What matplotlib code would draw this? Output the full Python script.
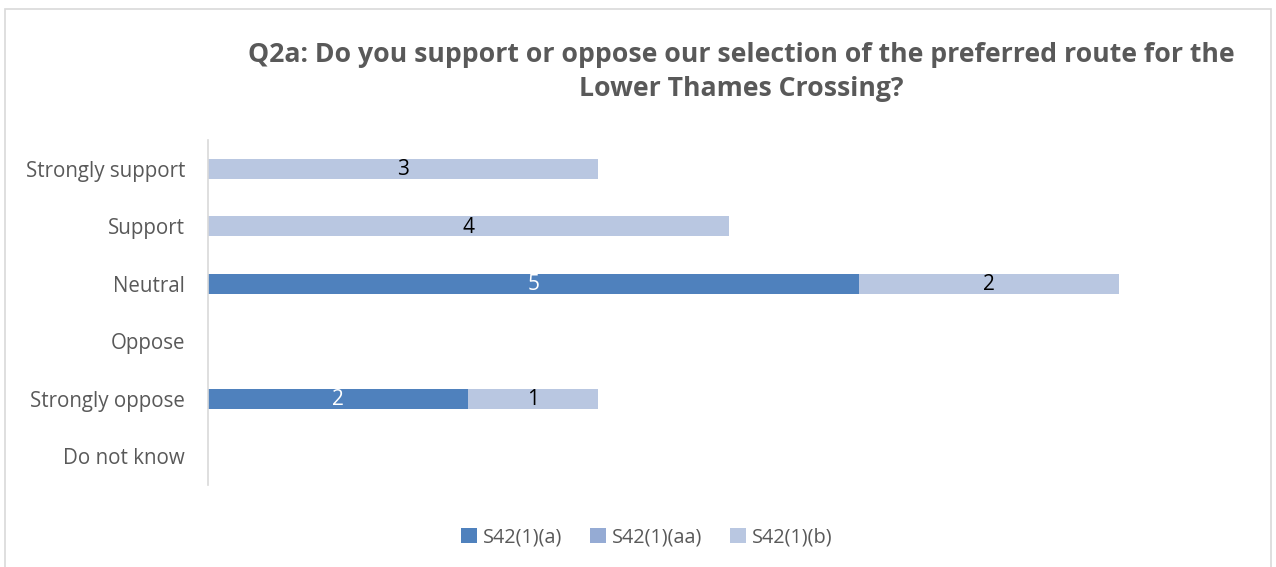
import matplotlib
matplotlib.use("Agg")
import matplotlib.pyplot as plt
from matplotlib.patches import Rectangle, Patch

categories = ["Strongly support", "Support", "Neutral", "Oppose", "Strongly oppose", "Do not know"]
series_names = ["S42(1)(a)", "S42(1)(aa)", "S42(1)(b)"]
s_a = [0, 0, 5, 0, 2, 0]
s_aa = [0, 0, 0, 0, 0, 0]
s_b = [3, 4, 2, 0, 1, 0]
colors = ["#4F81BD", "#95ABD4", "#B9C7E1"]
label_colors = ["white", "black", "black"]
title = "Q2a: Do you support or oppose our selection of the preferred route for the\nLower Thames Crossing?"

W, H = 1276, 567
fig = plt.figure(figsize=(W / 100, H / 100), dpi=100)
plt.rcParams['font.family'] = ['Open Sans', 'DejaVu Sans']

# outer chart border
fig.patches.append(Rectangle((5 / W, -0.1), (1271 - 5) / W, 1 - 9 / H + 0.1,
                             transform=fig.transFigure, fill=False,
                             edgecolor="#D9D9D9", linewidth=1.2))

left, right, top, bottom = 208, 1249, 140, 485
ax = fig.add_axes([left / W, 1 - bottom / H, (right - left) / W, (bottom - top) / H])

y = list(range(len(categories)))
lefts = [0] * len(categories)
for vals, name, col, lc in zip([s_a, s_aa, s_b], series_names, colors, label_colors):
    bars = ax.barh(y, vals, left=lefts, height=0.35, color=col, label=name)
    for b, v, l in zip(bars, vals, lefts):
        if v > 0:
            ax.text(l + v / 2, b.get_y() + b.get_height() / 2 + 0.02, str(v),
                    ha="center", va="center", color=lc, fontsize=15)
    lefts = [a + b for a, b in zip(lefts, vals)]

ax.set_xlim(0, 8)
ax.set_ylim(len(categories) - 0.5, -0.5)
ax.set_yticks(y)
ax.set_yticklabels(categories, fontsize=14.8, color="#595959")
ax.tick_params(axis="y", length=0, pad=16.5)
ax.set_xticks([])
for s in ["top", "right", "bottom"]:
    ax.spines[s].set_visible(False)
ax.spines["left"].set_color("#D9D9D9")
ax.spines["left"].set_linewidth(1.2)

fig.text(741 / W, 1 - 72 / H, title, ha="center", va="center", fontsize=19.2,
         fontweight="bold", color="#595959", linespacing=1.42)

handles = [Patch(facecolor=c, label=n) for c, n in zip(colors, series_names)]
fig.legend(handles=handles, loc="center", bbox_to_anchor=(647 / W, 1 - 537 / H),
           ncol=3, frameon=False, fontsize=14.3, labelcolor="#595959",
           handlelength=0.8, handleheight=0.8, handletextpad=0.3, columnspacing=1.4)

fig.savefig("out.png", dpi=100)
